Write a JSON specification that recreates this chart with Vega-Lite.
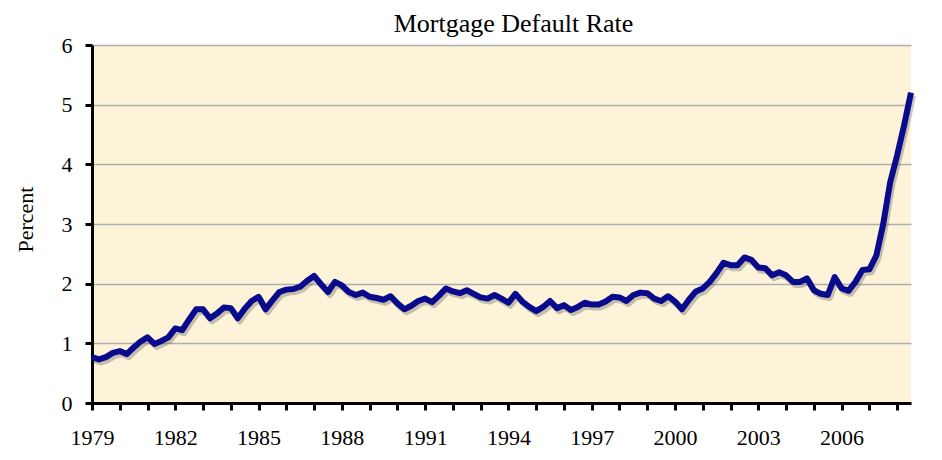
{
  "$schema": "https://vega.github.io/schema/vega-lite/v6.json",
  "width": 819,
  "height": 358,
  "autosize": {"type": "none"},
  "padding": {"left": 92, "top": 45, "right": 31, "bottom": 57},
  "background": "white",
  "config": {
    "view": {"fill": "#FCF3D9", "stroke": null},
    "font": "Liberation Serif",
    "axis": {"labelFont": "Liberation Serif", "titleFont": "Liberation Serif", "labelFontSize": 22, "titleFontSize": 22, "labelColor": "black", "titleColor": "black", "titleFontWeight": "normal"}
  },
  "title": {"text": "Mortgage Default Rate", "font": "Liberation Serif", "fontSize": 26, "fontWeight": "normal", "color": "black", "frame": "group", "anchor": "middle", "baseline": "alphabetic", "offset": -24, "dx": 12},
  "data": {"values": [
    {"year": 1979.00, "rate": 0.77}, {"year": 1979.25, "rate": 0.73}, {"year": 1979.50, "rate": 0.77}, {"year": 1979.75, "rate": 0.84},
    {"year": 1980.00, "rate": 0.87}, {"year": 1980.25, "rate": 0.82}, {"year": 1980.50, "rate": 0.93}, {"year": 1980.75, "rate": 1.03},
    {"year": 1981.00, "rate": 1.10}, {"year": 1981.25, "rate": 0.99}, {"year": 1981.50, "rate": 1.04}, {"year": 1981.75, "rate": 1.10},
    {"year": 1982.00, "rate": 1.25}, {"year": 1982.25, "rate": 1.22}, {"year": 1982.50, "rate": 1.40}, {"year": 1982.75, "rate": 1.57},
    {"year": 1983.00, "rate": 1.57}, {"year": 1983.25, "rate": 1.42}, {"year": 1983.50, "rate": 1.50}, {"year": 1983.75, "rate": 1.60},
    {"year": 1984.00, "rate": 1.59}, {"year": 1984.25, "rate": 1.42}, {"year": 1984.50, "rate": 1.58}, {"year": 1984.75, "rate": 1.71},
    {"year": 1985.00, "rate": 1.78}, {"year": 1985.25, "rate": 1.57}, {"year": 1985.50, "rate": 1.72}, {"year": 1985.75, "rate": 1.86},
    {"year": 1986.00, "rate": 1.90}, {"year": 1986.25, "rate": 1.91}, {"year": 1986.50, "rate": 1.95}, {"year": 1986.75, "rate": 2.05},
    {"year": 1987.00, "rate": 2.13}, {"year": 1987.25, "rate": 1.99}, {"year": 1987.50, "rate": 1.86}, {"year": 1987.75, "rate": 2.03},
    {"year": 1988.00, "rate": 1.97}, {"year": 1988.25, "rate": 1.86}, {"year": 1988.50, "rate": 1.81}, {"year": 1988.75, "rate": 1.85},
    {"year": 1989.00, "rate": 1.78}, {"year": 1989.25, "rate": 1.76}, {"year": 1989.50, "rate": 1.73}, {"year": 1989.75, "rate": 1.79},
    {"year": 1990.00, "rate": 1.67}, {"year": 1990.25, "rate": 1.57}, {"year": 1990.50, "rate": 1.63}, {"year": 1990.75, "rate": 1.71},
    {"year": 1991.00, "rate": 1.75}, {"year": 1991.25, "rate": 1.69}, {"year": 1991.50, "rate": 1.80}, {"year": 1991.75, "rate": 1.92},
    {"year": 1992.00, "rate": 1.87}, {"year": 1992.25, "rate": 1.84}, {"year": 1992.50, "rate": 1.89}, {"year": 1992.75, "rate": 1.83},
    {"year": 1993.00, "rate": 1.77}, {"year": 1993.25, "rate": 1.75}, {"year": 1993.50, "rate": 1.81}, {"year": 1993.75, "rate": 1.75},
    {"year": 1994.00, "rate": 1.68}, {"year": 1994.25, "rate": 1.83}, {"year": 1994.50, "rate": 1.70}, {"year": 1994.75, "rate": 1.61},
    {"year": 1995.00, "rate": 1.54}, {"year": 1995.25, "rate": 1.61}, {"year": 1995.50, "rate": 1.71}, {"year": 1995.75, "rate": 1.59},
    {"year": 1996.00, "rate": 1.64}, {"year": 1996.25, "rate": 1.56}, {"year": 1996.50, "rate": 1.61}, {"year": 1996.75, "rate": 1.68},
    {"year": 1997.00, "rate": 1.65}, {"year": 1997.25, "rate": 1.65}, {"year": 1997.50, "rate": 1.70}, {"year": 1997.75, "rate": 1.78},
    {"year": 1998.00, "rate": 1.77}, {"year": 1998.25, "rate": 1.71}, {"year": 1998.50, "rate": 1.81}, {"year": 1998.75, "rate": 1.85},
    {"year": 1999.00, "rate": 1.84}, {"year": 1999.25, "rate": 1.75}, {"year": 1999.50, "rate": 1.71}, {"year": 1999.75, "rate": 1.79},
    {"year": 2000.00, "rate": 1.70}, {"year": 2000.25, "rate": 1.57}, {"year": 2000.50, "rate": 1.73}, {"year": 2000.75, "rate": 1.87},
    {"year": 2001.00, "rate": 1.92}, {"year": 2001.25, "rate": 2.03}, {"year": 2001.50, "rate": 2.18}, {"year": 2001.75, "rate": 2.35},
    {"year": 2002.00, "rate": 2.31}, {"year": 2002.25, "rate": 2.31}, {"year": 2002.50, "rate": 2.44}, {"year": 2002.75, "rate": 2.40},
    {"year": 2003.00, "rate": 2.27}, {"year": 2003.25, "rate": 2.26}, {"year": 2003.50, "rate": 2.14}, {"year": 2003.75, "rate": 2.19},
    {"year": 2004.00, "rate": 2.14}, {"year": 2004.25, "rate": 2.03}, {"year": 2004.50, "rate": 2.03}, {"year": 2004.75, "rate": 2.09},
    {"year": 2005.00, "rate": 1.89}, {"year": 2005.25, "rate": 1.83}, {"year": 2005.50, "rate": 1.81}, {"year": 2005.75, "rate": 2.11},
    {"year": 2006.00, "rate": 1.92}, {"year": 2006.25, "rate": 1.88}, {"year": 2006.50, "rate": 2.03}, {"year": 2006.75, "rate": 2.23},
    {"year": 2007.00, "rate": 2.24}, {"year": 2007.25, "rate": 2.47}, {"year": 2007.50, "rate": 3.00}, {"year": 2007.75, "rate": 3.70},
    {"year": 2008.00, "rate": 4.15}, {"year": 2008.25, "rate": 4.65}, {"year": 2008.50, "rate": 5.20}
  ]},
  "encoding": {
    "x": {
      "field": "year", "type": "quantitative",
      "scale": {"domain": [1979, 2008.5], "nice": false, "zero": false},
      "axis": {
        "values": [1979,1980,1981,1982,1983,1984,1985,1986,1987,1988,1989,1990,1991,1992,1993,1994,1995,1996,1997,1998,1999,2000,2001,2002,2003,2004,2005,2006,2007,2008],
        "labelExpr": "(datum.value - 1979) % 3 == 0 ? format(datum.value, 'd') : ''",
        "grid": false, "title": null,
        "domainColor": "black", "domainWidth": 3,
        "tickColor": "black", "tickWidth": 3, "tickSize": 7,
        "labelFont": "Liberation Serif", "labelFontSize": 22, "labelColor": "black",
        "labelPadding": 17, "labelFlush": false, "labelOverlap": false
      }
    },
    "y": {
      "field": "rate", "type": "quantitative",
      "scale": {"domain": [0, 6], "nice": false},
      "axis": {
        "values": [0,1,2,3,4,5,6],
        "grid": true, "gridColor": "#AFAFAF", "gridWidth": 1.5,
        "domainColor": "black", "domainWidth": 3,
        "tickColor": "black", "tickWidth": 3, "tickSize": 7,
        "labelFont": "Liberation Serif", "labelFontSize": 22, "labelColor": "black",
        "labelPadding": 13,
        "title": "Percent", "titleFont": "Liberation Serif", "titleFontSize": 22, "titleFontWeight": "normal", "titleColor": "black",
        "titleX": -60, "titleY": 174, "titleBaseline": "alphabetic", "titleAngle": -90, "titleAlign": "center"
      }
    }
  },
  "layer": [
    {"mark": {"type": "line", "color": "#444444", "opacity": 0.3, "strokeWidth": 6, "xOffset": 2, "yOffset": 3, "strokeJoin": "round"}},
    {"mark": {"type": "line", "color": "#0A0A8C", "strokeWidth": 6, "strokeJoin": "round", "strokeCap": "butt"}}
  ]
}
